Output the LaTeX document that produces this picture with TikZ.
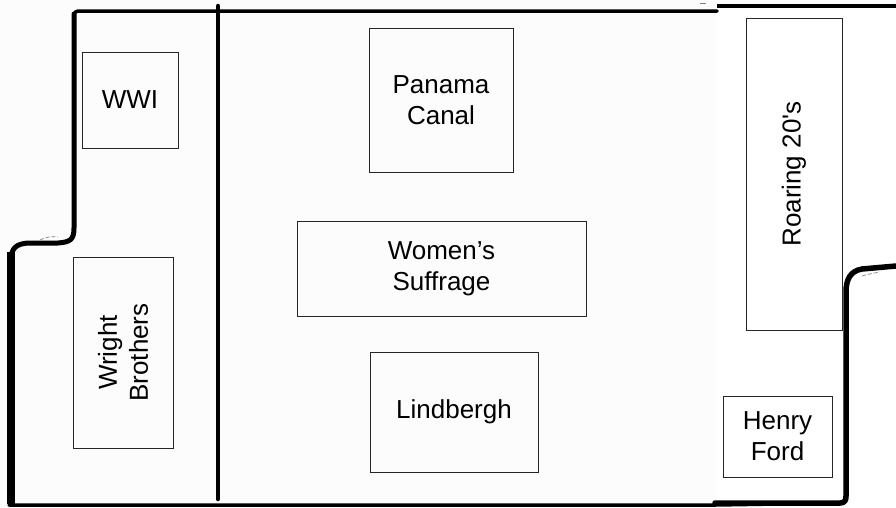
\documentclass[tikz,border=0pt]{standalone}
\usepackage{fontspec}
\setmainfont{Liberation Sans}
\begin{document}
\begin{tikzpicture}[x=1pt,y=-1pt,
  box/.style={draw=black!85, line width=1pt, align=center, inner sep=0pt,
    font=\fontsize{26}{31}\selectfont},
  wall/.style={draw=black, line cap=round, line join=round},
  smudge/.style={draw=black!45, line width=0.8pt, dashed, dash pattern=on 4pt off 2pt}]
\useasboundingbox (0,0) rectangle (896,507);
\fill[white] (0,0) rectangle (896,507);
\fill[black!1] (0,0) rectangle (716,507);
% outer walls
\draw[wall, line width=5pt] (74,14) -- (74,228) .. controls (74,240) and (70,242) .. (58,243) -- (28,243) .. controls (16,244) and (12,248) .. (11,258);
\draw[wall, line width=7.5pt, line cap=butt] (11,252) -- (11,504);
\draw[wall, line width=3.5pt] (74,16) .. controls (74,12) and (76,11) .. (80,11) -- (717,11);
\draw[wall, line width=4.5pt, line cap=butt] (717,6) -- (896,6);
\draw[wall, line width=3.5pt] (9,505) -- (715,505) -- (840,503);
\draw[wall, line width=5.5pt] (715,503) -- (840,503) .. controls (845,503) and (846,500) .. (846,496) -- (846,292) .. controls (846,280) and (850,271) .. (862,269) -- (896,266);
% divider
\draw[wall, line width=4.5pt] (218,6) -- (218,499);
% smudges
\draw[smudge] (40,240) .. controls (46,237) and (52,236) .. (58,237);
\draw[smudge] (862,276) .. controls (868,274) and (874,273) .. (880,272);
\draw[black!50, line width=0.8pt] (700,3) -- (706,3);
% boxes
\node[box, minimum width=96, minimum height=96] (wwi) at (130,100) {WWI};
\node[box, minimum width=144, minimum height=144] (panama) at (441,100) {Panama\\Canal};
\node[box, minimum width=289, minimum height=95] (women) at (441.5,268.5) {Women’s\\Suffrage};
\node[box, minimum width=168, minimum height=120] (lind) at (454,412) {Lindbergh};
\node[box, rotate=90, minimum width=191, minimum height=100] (wright) at (123,352.5) {Wright\\Brothers};
\node[box, rotate=90, minimum width=312, minimum height=96] (roar) at (794,174) {Roaring 20\textquotesingle s};
\node[box, minimum width=109, minimum height=81] (ford) at (777.5,436.5) {Henry\\Ford};
\end{tikzpicture}
\end{document}
